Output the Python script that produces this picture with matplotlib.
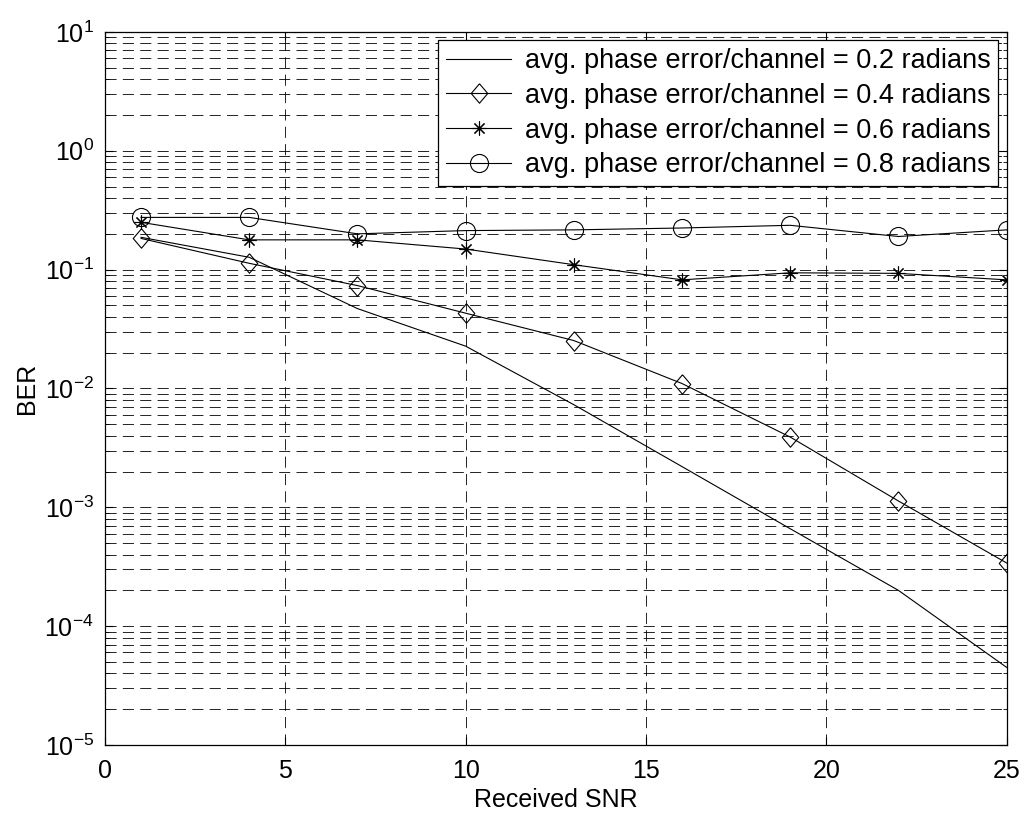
import numpy as np
import matplotlib
matplotlib.use("Agg")
import matplotlib.pyplot as plt
from matplotlib.text import Text
from matplotlib.ticker import LogLocator, FixedLocator, NullFormatter

plt.rcParams['font.family'] = ['Liberation Sans', 'DejaVu Sans']
plt.rcParams['mathtext.fontset'] = 'custom'
plt.rcParams['mathtext.rm'] = 'Liberation Sans'
plt.rcParams['mathtext.it'] = 'Liberation Sans'
plt.rcParams['mathtext.default'] = 'regular'
plt.rcParams['lines.scale_dashes'] = False

# Datos
snr = [1, 4, 7, 10, 13, 16, 19, 22, 25]
ber_02 = [0.187, 0.127, 0.047, 0.0227, 0.0073, 0.0022, 6.6e-4, 2.0e-4, 4.5e-5]
ber_04 = [0.183, 0.113, 0.0734, 0.043, 0.0253, 0.011, 0.0039, 0.00113, 3.4e-4]
ber_06 = [0.25, 0.178, 0.178, 0.149, 0.110, 0.082, 0.094, 0.093, 0.082]
ber_08 = [0.275, 0.275, 0.20, 0.213, 0.216, 0.224, 0.236, 0.19, 0.216]
labels = ["avg. phase error/channel = 0.2 radians",
          "avg. phase error/channel = 0.4 radians",
          "avg. phase error/channel = 0.6 radians",
          "avg. phase error/channel = 0.8 radians"]

# rombo un poco mas alto que ancho, como el de MATLAB
rombo = [(0, 1), (0.85, 0), (0, -1), (-0.85, 0), (0, 1)]

fig = plt.figure(figsize=(10.24, 8.19), dpi=100)
ax = fig.add_axes([0.1025, 0.0904, 0.8805, 0.8706])

lw = 0.8
ax.semilogy(snr, ber_02, '-', color='k', lw=lw, label=labels[0])
ax.semilogy(snr, ber_04, '-', color='k', lw=lw, marker=rombo, markersize=14,
            markerfacecolor='none', markeredgewidth=0.8, label=labels[1])
ax.semilogy(snr, ber_06, '-', color='k', lw=lw, marker=(8, 2, 0), markersize=10,
            markeredgewidth=0.8, label=labels[2])
ax.semilogy(snr, ber_08, '-', color='k', lw=lw, marker='o', markersize=13,
            markerfacecolor='none', markeredgewidth=0.8, label=labels[3])

ax.set_xlim(0, 25)
ax.set_ylim(1e-5, 1e1)
ax.xaxis.set_major_locator(FixedLocator([0, 5, 10, 15, 20, 25]))
ax.yaxis.set_major_locator(LogLocator(base=10, numticks=10))
ax.yaxis.set_minor_locator(LogLocator(base=10, subs=np.arange(2, 10), numticks=10))
ax.yaxis.set_minor_formatter(NullFormatter())

dash = (0, (8, 4.5))
ax.grid(True, which='major', axis='both', color='k', linestyle=dash, linewidth=0.6)
ax.grid(True, which='minor', axis='y', color='k', linestyle=dash, linewidth=0.6)

ax.tick_params(which='both', direction='in', top=True, right=True, labelsize=18)
ax.tick_params(which='major', length=6)
ax.tick_params(which='minor', length=3)
ax.tick_params(axis='x', pad=10)
ax.tick_params(axis='y', pad=8)
for s in ax.spines.values():
    s.set_linewidth(0.9)

ax.set_xlabel("Received SNR", fontsize=18, labelpad=4)
ax.set_ylabel("BER", fontsize=18, labelpad=4)

leg = ax.legend(loc='upper right', fontsize=19.5, frameon=True, fancybox=False,
                edgecolor='k', framealpha=1, borderaxespad=0.3, borderpad=0.3,
                handlelength=2.4, handletextpad=0.5, labelspacing=0.32)
leg.get_frame().set_linewidth(0.9)

# textos vacios (etiquetas menores, offset) fuera de la vista
fig.canvas.draw()
for t in fig.findobj(Text):
    if not t.get_text():
        t.set_visible(False)

fig.savefig("out.png", dpi=100)
